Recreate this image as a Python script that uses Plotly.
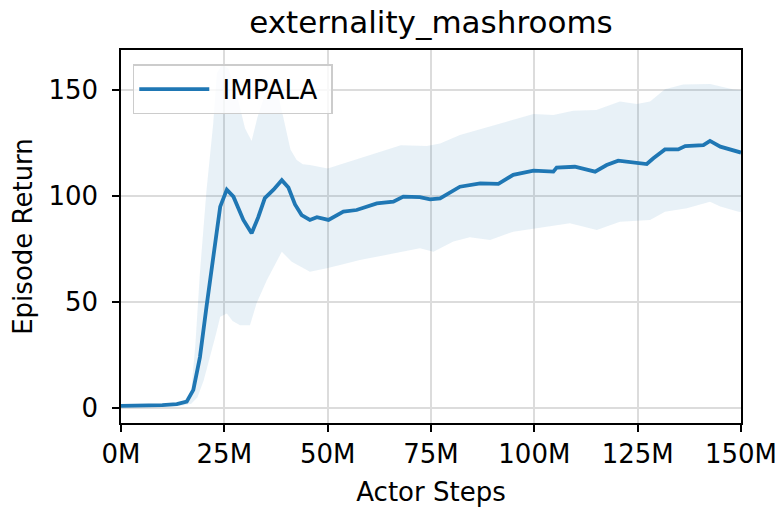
import plotly.graph_objects as go

# Mean curve (x in millions of actor steps)
mean_x = [0, 5, 10, 13.5, 15.9, 17.5, 19.1, 20.7, 22.3, 24, 25.6, 27.2, 29.6, 31.6, 33.2, 34.8,
          36.9, 38.9, 40.5, 42.1, 43.7, 45.7, 47.4, 50.2, 53.8, 57, 61.9, 65.9, 68.3, 72.3, 74.8,
          77.2, 82, 86.9, 91.3, 94.9, 99.8, 104.6, 105.4, 109.8, 114.7, 117.5, 120.3, 124.8,
          127.2, 128.8, 131.6, 134.8, 136.5, 140.9, 142.5, 145, 149.4, 150]
mean_y = [1, 1.1, 1.3, 1.8, 3, 8.5, 24, 48, 71, 95, 103, 99.7, 88.7, 82.4, 90, 99,
          103, 107.5, 104, 96, 91, 88.7, 90, 88.7, 92.6, 93.4, 96.5, 97.3, 99.7, 99.5, 98.4,
          98.9, 104.4, 106, 105.7, 110, 112, 111.5, 113.4, 113.8, 111.5, 114.6, 116.7, 115.7,
          115.1, 117.8, 122, 122, 123.6, 124, 126, 123.3, 121, 120.5]

# Upper edge of the shaded band
upper_x = [0, 10, 15, 17, 18, 19.1, 20.7, 22.3, 23.2, 24.5, 26, 28, 30, 31.6, 33, 35, 36.5,
           38, 39.5, 41, 42.5, 44, 45.7, 50, 53.8, 58.7, 67.7, 74, 77.2, 82, 88.5, 94.2, 99.8,
           104.6, 109.4, 115, 120.7, 124.8, 128, 131.6, 136, 142.5, 148, 150]
upper_y = [1, 1.2, 2.5, 8, 30, 64, 103, 134, 158, 162, 160, 148, 132, 126, 137, 149, 152,
           148, 135, 122, 117, 115, 114.6, 113, 115.4, 118.5, 124, 123.6, 124.8, 128.8, 132.4,
           135.8, 138.7, 138.2, 140.2, 140.6, 144.6, 143.4, 144.6, 150.4, 152.6, 152.8, 150.4, 150]

# Lower edge of the shaded band
lower_x = [0, 10, 15, 17, 18.5, 20, 21.5, 23, 24, 25.6, 27, 28.8, 31.2, 32.8, 35.3, 38.9, 41.3,
           45.7, 49.8, 53, 57.8, 65.9, 72.3, 75.6, 80.4, 84.4, 89.3, 94.9, 99.8, 108.6, 115.1,
           120.7, 128, 131.6, 136.9, 142.5, 145, 149.4, 150]
lower_y = [1, 1.0, 1.2, 2, 5, 13, 24, 35, 43, 44.6, 41, 39, 39, 49.4, 60.4, 73.7, 69,
           64.3, 65.9, 67.5, 69.8, 73, 75.3, 73.7, 78.5, 80.5, 79.2, 83.2, 84.7, 87.1, 84,
           87.9, 88.7, 92.6, 94.2, 97.3, 95, 92.6, 92.5]

x_ticks = [0, 25, 50, 75, 100, 125, 150]
x_tick_labels = ["0M", "25M", "50M", "75M", "100M", "125M", "150M"]
y_ticks = [0, 50, 100, 150]

BLUE = "#1f77b4"
FONT = "DejaVu Sans"

# The page body adds an 8px offset; figure is sized so the plot lands where the reference has it.
W, H = 775, 503

fig = go.Figure()
fig.add_trace(go.Scatter(
    x=upper_x + lower_x[::-1], y=upper_y + lower_y[::-1],
    fill="toself", fillcolor="rgba(31,119,180,0.1)", line=dict(width=0),
    mode="lines", showlegend=False, hoverinfo="skip"))
fig.add_trace(go.Scatter(
    x=mean_x, y=mean_y, mode="lines", name="\u00a0IMPALA\u00a0",
    line=dict(color=BLUE, width=3.8)))

fig.update_layout(
    width=W, height=H,
    margin=dict(l=113, r=42, t=42, b=88, autoexpand=False),
    paper_bgcolor="white", plot_bgcolor="white",
    font=dict(family=FONT, size=26, color="black"),
    title=dict(text="externality_mashrooms", x=(113 + (W - 42)) / 2 / W, xanchor="center",
               y=1 - 3 / H, yanchor="top", yref="container", pad=dict(t=0, b=0),
               font=dict(size=31, family=FONT, color="black")),
    legend=dict(x=0.019, y=0.962, xanchor="left", yanchor="top",
                bgcolor="rgba(255,255,255,0.8)", bordercolor="#cccccc", borderwidth=1.5,
                font=dict(size=26, family=FONT), itemwidth=70),
    showlegend=True,
)
fig.update_xaxes(
    range=[0, 150], tickvals=x_ticks, ticktext=x_tick_labels,
    showgrid=True, gridcolor="#dcdcdc", gridwidth=1.5,
    showline=True, linecolor="black", linewidth=1.5, mirror=True,
    ticks="outside", ticklen=7, tickwidth=1.5, tickcolor="black",
    zeroline=False, automargin=False, ticklabelstandoff=0,
    title=dict(text="Actor Steps", font=dict(size=26, family=FONT)),
)
fig.update_yaxes(
    range=[-7.1, 168.9], tickvals=y_ticks,
    showgrid=True, gridcolor="#dcdcdc", gridwidth=1.5,
    showline=True, linecolor="black", linewidth=1.5, mirror=True,
    ticks="outside", ticklen=7, tickwidth=1.5, tickcolor="black",
    zeroline=False, automargin=False, ticklabelstandoff=9,
    title=dict(text="Episode Return", font=dict(size=26, family=FONT)),
)

fig.write_html("out.html")
